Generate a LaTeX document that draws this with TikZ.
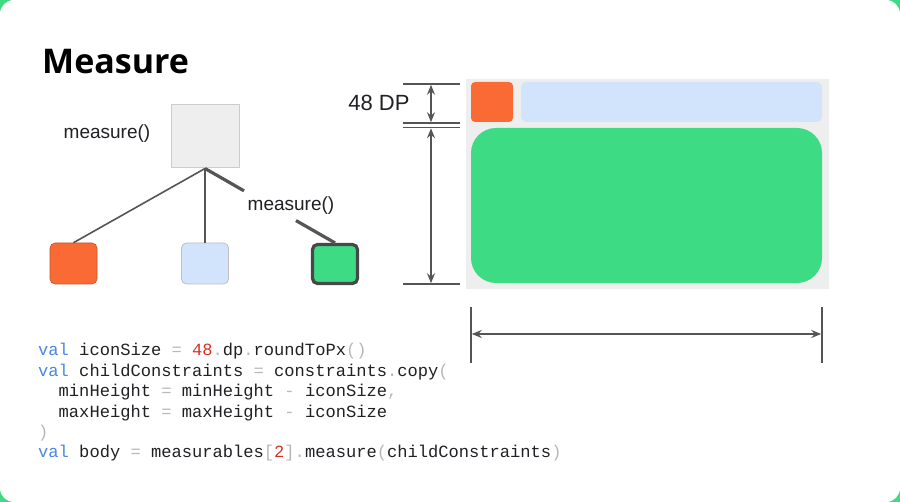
\documentclass[tikz,border=0pt]{standalone}
\usepackage{fontspec}
\setmainfont{Liberation Sans}
\setmonofont{Liberation Mono}
\newfontfamily\titlefont{Open Sans}
\usetikzlibrary{arrows.meta,calc}
\definecolor{bggreen}{HTML}{3DDC84}
\definecolor{boxgreen}{HTML}{3DDC84}
\definecolor{boxorange}{HTML}{FA6A35}
\definecolor{boxblue}{HTML}{D2E3FC}
\definecolor{boxgray}{HTML}{EEEEEE}
\definecolor{linegray}{HTML}{555555}
\definecolor{kw}{HTML}{4A86E8}
\definecolor{num}{HTML}{D93025}
\definecolor{pu}{HTML}{B8B8B8}
\definecolor{txt}{HTML}{202124}
\newcommand{\kw}[1]{{\color{kw}#1}}
\newcommand{\nm}[1]{{\color{num}#1}}
\newcommand{\pu}[1]{{\color{pu}#1}}
\begin{document}
\begin{tikzpicture}[x=1pt,y=-1pt,
  conn/.style={draw=linegray, line width=1.6pt},
  thickconn/.style={draw=linegray, line width=3.2pt},
  dimline/.style={draw=linegray, line width=1.6pt},
  dimarrow/.style={draw=linegray, line width=1.6pt, {Stealth[length=10pt,width=8pt,inset=3.5pt]}-{Stealth[length=10pt,width=8pt,inset=3.5pt]}},
  label/.style={font=\fontsize{19}{22}\selectfont, text=txt, inner sep=0pt},
  codeline/.style={font=\ttfamily\fontsize{17.1}{20}\selectfont, text=txt, anchor=base west, inner sep=0pt},
  tile/.style={rounded corners=5pt, inner sep=0pt}
]
% frame
\fill[bggreen] (0,0) rectangle (900,502);
\fill[white, rounded corners=14pt] (0,0) rectangle (900,502);
\useasboundingbox (0,0) rectangle (900,502);

% title
\node[anchor=base west, inner sep=0pt, font=\titlefont\bfseries\fontsize{34}{40}\selectfont] (title) at (42,74) {Measure};

% tree
\node[draw=black!20, fill=boxgray, line width=1pt, minimum width=68pt, minimum height=63pt, inner sep=0pt] (root) at (205,136.5) {};
\node[label] (lblA) at (107,134) {measure()};
\node[tile, fill=boxorange, draw=boxorange!80!black, line width=0.6pt, minimum width=47pt, minimum height=41pt] (orange) at (73.5,263.5) {};
\node[tile, fill=boxblue, draw=black!25, line width=0.8pt, minimum width=47pt, minimum height=41pt] (blue) at (205,263.5) {};
\node[tile, fill=boxgreen, draw=black!72, line width=3.2pt, minimum width=45pt, minimum height=39pt] (green) at (335,264) {};
\draw[conn] (root.south) -- (orange.north);
\draw[conn] (root.south) -- (blue.north);
\coordinate (gapA) at ($(root.south)!0.3!(green.north)$);
\coordinate (gapB) at ($(root.south)!0.7!(green.north)$);
\draw[thickconn] (root.south) -- (gapA);
\draw[thickconn] (gapB) -- (green.north);
\node[label] (lblB) at (291,206) {measure()};

% layout
\node[fill=boxgray, minimum width=363pt, minimum height=210pt, inner sep=0pt] (container) at (647.5,184) {};
\node[rounded corners=4pt, fill=boxorange, minimum width=42pt, minimum height=40pt, inner sep=0pt] (icon) at (492,102) {};
\node[rounded corners=5pt, fill=boxblue, minimum width=301pt, minimum height=40pt, inner sep=0pt] (bar) at (671.5,102) {};
\node[rounded corners=25pt, fill=boxgreen, minimum width=351pt, minimum height=155pt, inner sep=0pt] (body) at (646.5,205.5) {};

% vertical dimensions
\coordinate (t1a) at (403,84);  \coordinate (t1b) at (460,84);
\coordinate (t2a) at (403,123); \coordinate (t2b) at (460,123);
\coordinate (t3a) at (403,127.5); \coordinate (t3b) at (460,127.5);
\coordinate (t4a) at (403,284); \coordinate (t4b) at (460,284);
\draw[dimline] (t1a) -- (t1b);
\draw[dimline] (t2a) -- (t2b);
\draw[dimline] (t3a) -- (t3b);
\draw[dimline] (t4a) -- (t4b);
\coordinate (v1) at (431,84.8); \coordinate (v2) at (431,122.2);
\coordinate (v3) at (431,128.3); \coordinate (v4) at (431,283.2);
\draw[dimarrow] (v1) -- (v2);
\draw[dimarrow] (v3) -- (v4);
\node[inner sep=0pt, text=txt, font=\fontsize{22}{26}\selectfont] (dp) at (379,103) {48 DP};

% horizontal dimension
\coordinate (h1a) at (471,307); \coordinate (h1b) at (471,363);
\coordinate (h2a) at (822,307); \coordinate (h2b) at (822,363);
\draw[dimline] (h1a) -- (h1b);
\draw[dimline] (h2a) -- (h2b);
\coordinate (hl) at (471.8,334); \coordinate (hr) at (821.2,334);
\draw[dimarrow] (hl) -- (hr);

% code
\node[codeline] (c1) at (38,356) {\kw{val} iconSize \pu{=} \nm{48}\pu{.}dp\pu{.}roundToPx\pu{()}};
\node[codeline] (c2) at (38,376.4) {\kw{val} childConstraints \pu{=} constraints\pu{.}copy\pu{(}};
\node[codeline] (c3) at (38,396.8) {\phantom{xx}minHeight \pu{=} minHeight \pu{-} iconSize\pu{,}};
\node[codeline] (c4) at (38,417.2) {\phantom{xx}maxHeight \pu{=} maxHeight \pu{-} iconSize};
\node[codeline] (c5) at (38,437.6) {\pu{)}};
\node[codeline] (c6) at (38,458) {\kw{val} body \pu{=} measurables\pu{[}\nm{2}\pu{]}\pu{.}measure\pu{(}childConstraints\pu{)}};
\end{tikzpicture}
\end{document}
